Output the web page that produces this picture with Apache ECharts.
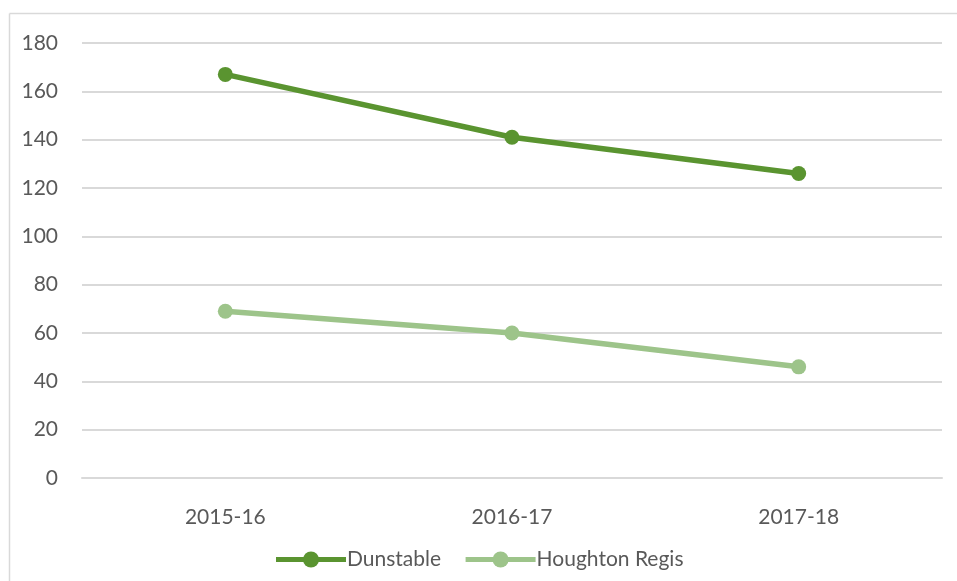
<!DOCTYPE html>
<html><head><meta charset="utf-8">
<script src="https://cdn.jsdelivr.net/npm/echarts@6/dist/echarts.min.js"></script>
<style>html,body{margin:0;padding:0;background:#fff}#c{width:957px;height:581px}</style>
</head><body><div id="c"></div>
<script>
const categories = ['2015-16', '2016-17', '2017-18'];
const dunstable = [167, 141, 126];
const houghtonRegis = [69, 60, 46];
const seriesNames = ['Dunstable', 'Houghton Regis'];
const yTicks = { min: 0, max: 180, interval: 20 };

const chart = echarts.init(document.getElementById('c'));
const font = "Lato, 'Open Sans', 'Liberation Sans', sans-serif";
const textColor = '#595959';
chart.setOption({
  animation: false,
  backgroundColor: '#fff',
  graphic: [
    { type: 'line', shape: { x1: 9.5, y1: 13.5, x2: 957, y2: 13.5 }, style: { stroke: '#d9d9d9', lineWidth: 1.5 } },
    { type: 'line', shape: { x1: 9.5, y1: 13.5, x2: 9.5, y2: 581 }, style: { stroke: '#d9d9d9', lineWidth: 1.5 } }
  ],
  grid: { left: 82, right: 15, top: 43, bottom: 103, containLabel: false },
  legend: {
    bottom: 6, left: 'center',
    itemWidth: 70, itemHeight: 20, itemGap: 22,
    lineStyle: { width: 5 },
    textStyle: { color: textColor, fontSize: 21, fontFamily: font, padding: [0,0,0,-4] },
    data: seriesNames
  },
  xAxis: {
    type: 'category', data: categories, boundaryGap: true,
    axisLine: { lineStyle: { color: '#d9d9d9', width: 2 } },
    axisTick: { show: false },
    axisLabel: { color: textColor, fontSize: 21, fontFamily: font, margin: 29 }
  },
  yAxis: {
    type: 'value', min: yTicks.min, max: yTicks.max, interval: yTicks.interval,
    axisLine: { show: false }, axisTick: { show: false },
    splitLine: { lineStyle: { color: '#d9d9d9', width: 2 } },
    axisLabel: { color: textColor, fontSize: 21, fontFamily: font, margin: 24 }
  },
  series: [
    { name: seriesNames[0], type: 'line', data: dunstable, symbol: 'circle', symbolSize: 15,
      itemStyle: { color: '#5a9430' }, lineStyle: { color: '#5a9430', width: 5.5 } },
    { name: seriesNames[1], type: 'line', data: houghtonRegis, symbol: 'circle', symbolSize: 15,
      itemStyle: { color: '#9dc48a' }, lineStyle: { color: '#9dc48a', width: 5.5 } }
  ]
});
</script></body></html>
